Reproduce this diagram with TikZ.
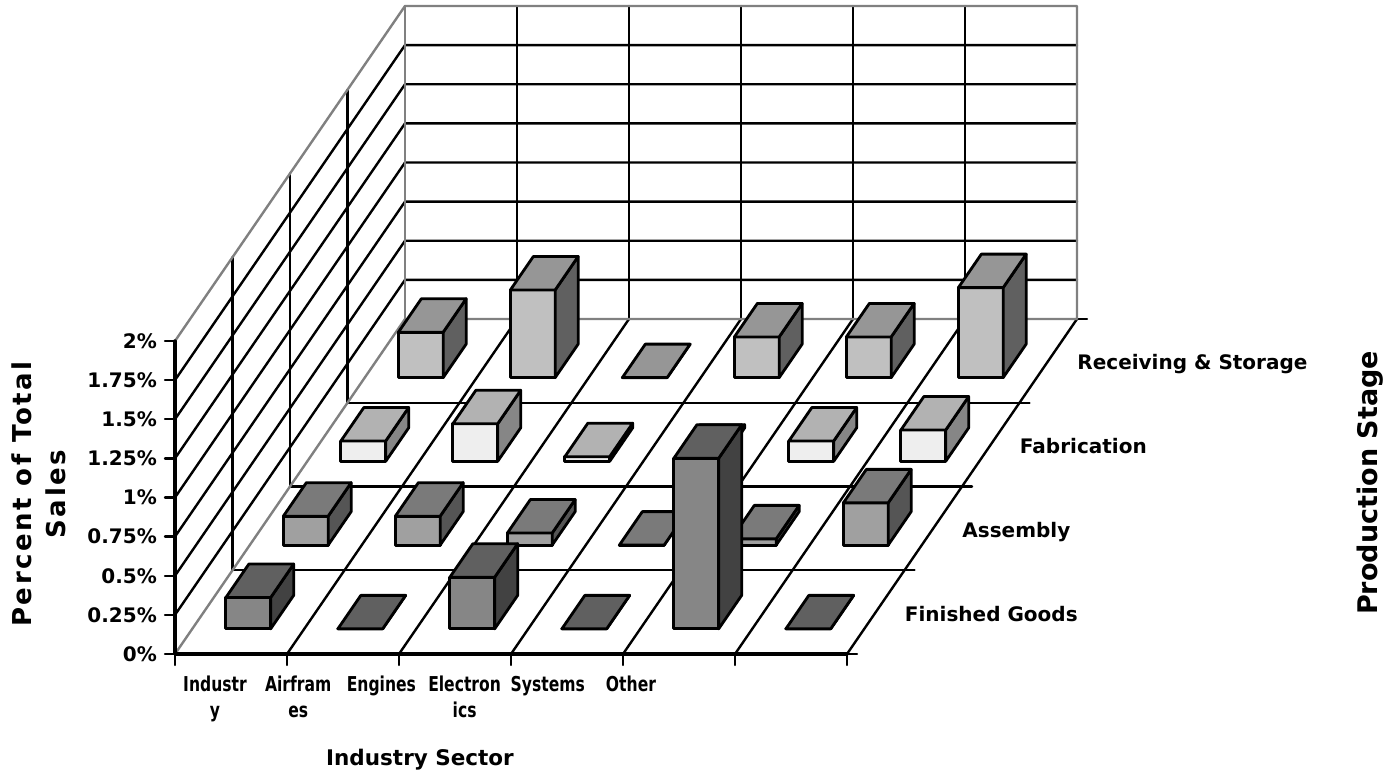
\documentclass[tikz,border=0pt]{standalone}
\usepackage{fontspec}
\setmainfont{DejaVu Sans}
\newfontfamily\narrowfont[FakeStretch=0.76]{DejaVu Sans}
\newfontfamily\spacedfont[LetterSpace=10]{DejaVu Sans}
\definecolor{edgegray}{HTML}{808080}
\definecolor{rsfront}{HTML}{C0C0C0}
\definecolor{rstop}{HTML}{969696}
\definecolor{rsside}{HTML}{606060}
\definecolor{fabfront}{HTML}{EEEEEE}
\definecolor{fabtop}{HTML}{B2B2B2}
\definecolor{fabside}{HTML}{868686}
\definecolor{asmfront}{HTML}{A0A0A0}
\definecolor{asmtop}{HTML}{7A7A7A}
\definecolor{asmside}{HTML}{555555}
\definecolor{fgfront}{HTML}{868686}
\definecolor{fgtop}{HTML}{606060}
\definecolor{fgside}{HTML}{424242}
\tikzset{
  gridline/.style={line width=2.4pt},
  walledge/.style={draw=edgegray, line width=2.4pt},
  axisline/.style={line width=3.4pt},
  barface/.style={draw=black, line width=2.8pt},
  ticklabel/.style={font=\bfseries\fontsize{20}{26}\selectfont, inner sep=0pt},
}
% #1 sector, #2 stage, #3 height, #4 colour prefix
\newcommand{\drawcolumn}[4]{%
  \filldraw[barface, fill=#4front] (#1+0.3,0,#2+0.3) -- (#1+0.7,0,#2+0.3) -- (#1+0.7,#3,#2+0.3) -- (#1+0.3,#3,#2+0.3) -- cycle;
  \filldraw[barface, fill=#4side] (#1+0.7,0,#2+0.3) -- (#1+0.7,0,#2+0.7) -- (#1+0.7,#3,#2+0.7) -- (#1+0.7,#3,#2+0.3) -- cycle;
  \filldraw[barface, fill=#4top] (#1+0.3,#3,#2+0.3) -- (#1+0.7,#3,#2+0.3) -- (#1+0.7,#3,#2+0.7) -- (#1+0.3,#3,#2+0.7) -- cycle;
}
\begin{document}
\begin{tikzpicture}[x={(112pt,0pt)}, y={(0pt,156.5pt)}, z={(57.5pt,83.75pt)}, line join=round, line cap=round, font=\bfseries]
\useasboundingbox (0pt,0pt) rectangle (1397pt,774pt);
\begin{scope}[shift={(175pt,120pt)}]
\foreach \k in {1,...,7} \draw[gridline] (0,0.25*\k,0) -- (0,0.25*\k,4) -- (6,0.25*\k,4);
\foreach \c in {1,...,5} \draw[gridline] (\c,0,4) -- (\c,2,4);
\foreach \d in {1,2,3} \draw[gridline] (0,0,\d) -- (0,2,\d);
\foreach \c in {1,...,6} \draw[gridline] (\c,0,0) -- (\c,0,4);
\foreach \d in {1,2,3} \draw[gridline] (0,0,\d) -- (6,0,\d);
\foreach \d in {0,...,4} \draw[gridline] (6,0,\d) -- ++(10pt,0pt);
\draw[walledge] (0,0,0) -- (0,0,4) -- (6,0,4) -- (6,2,4) -- (0,2,4) -- (0,2,0);
\draw[walledge] (0,0,4) -- (0,2,4);
\draw[axisline] (0,2,0) -- (0,0,0) -- (6,0,0);
\foreach \k in {0,...,8} \draw[gridline] (0,0.25*\k,0) -- ++(-10pt,0pt);
\foreach \c in {0,...,6} \draw[gridline] (\c,0,0) -- ++(0pt,-11pt);
\foreach \t [count=\k from 0] in {0\%,0.25\%,0.5\%,0.75\%,1\%,1.25\%,1.5\%,1.75\%,2\%}
  \node[ticklabel, anchor=east] (pct\k) at (0,0.25*\k,0) [xshift=-18pt] {\t};
\foreach \t [count=\j from 0] in {Finished Goods,Assembly,Fabrication,Receiving \& Storage}
  \node[ticklabel, anchor=base west] (stage\j) at (6,0,\j+0.5) [xshift=29pt, yshift=-9pt] {\t};
% bars, back row first
\foreach \h [count=\i from 0] in {0.29,0.56,0,0.26,0.26,0.575} \drawcolumn{\i}{3}{\h}{rs};
\foreach \h [count=\i from 0] in {0.13,0.24,0.03,0.02,0.13,0.20} \drawcolumn{\i}{2}{\h}{fab};
\foreach \h [count=\i from 0] in {0.185,0.185,0.077,0,0.04,0.27} \drawcolumn{\i}{1}{\h}{asm};
\foreach \h [count=\i from 0] in {0.20,0,0.33,0,1.09,0} \drawcolumn{\i}{0}{\h}{fg};
\end{scope}
\foreach \t [count=\i from 0] in {Industr\\y,Airfram\\es,Engines,Electron\\ics,Systems,Other}
  \node[ticklabel, font=\narrowfont\bfseries\fontsize{20.5}{26}\selectfont, align=center, anchor=north] (sector\i) at (215pt+83.2pt*\i,98pt) {\t};
\node[font=\bfseries\fontsize{21.5}{26}\selectfont, anchor=base] (sectortitle) at (420pt,9pt) {Industry Sector};
\node[rotate=90, align=center, font=\spacedfont\bfseries\fontsize{26}{34}\selectfont] (pcttitle) at (39pt,280pt) {Percent of Total\\Sales};
\node[rotate=90, font=\bfseries\fontsize{27}{32}\selectfont] (stagetitle) at (1370pt,291pt) {Production Stage};
\end{tikzpicture}
\end{document}
